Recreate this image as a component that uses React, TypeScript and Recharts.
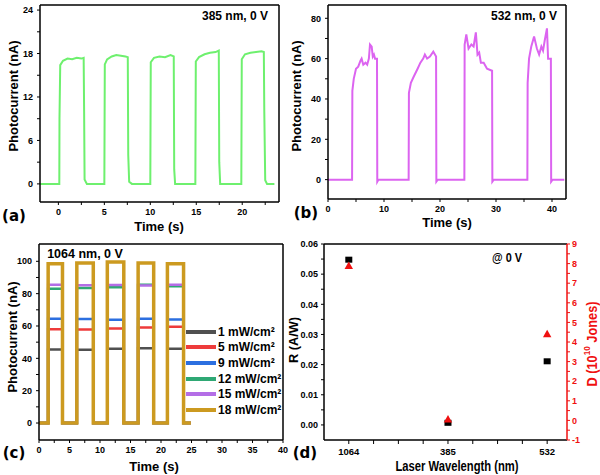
import React from 'react';
import { LineChart, Line, XAxis, YAxis, ReferenceLine, Legend, ComposedChart, Scatter } from 'recharts';

const FONT = "'Liberation Sans', Arial, sans-serif";
const LETTER = "'DejaVu Sans', sans-serif";

// ---------- (a) 385 nm ----------
const signal385: [number, number][] = [
  [-2, 0], [0.1, 0], [0.12, 9], [0.2, 16.4], [0.5, 17.0], [1.0, 17.3], [1.5, 17.2], [2.0, 17.4], [2.5, 17.3], [2.75, 17.4], [2.8, 10], [2.85, 0.6], [3.1, 0],
  [5.0, 0], [5.05, 16.5], [5.3, 17.2], [5.8, 17.6], [6.3, 17.8], [6.8, 17.7], [7.3, 17.6], [7.55, 17.5], [7.6, 4], [7.7, 0.3], [8.0, 0],
  [10.0, 0], [10.05, 16.8], [10.4, 17.4], [11.0, 17.6], [11.6, 17.5], [12.2, 17.8], [12.55, 17.6], [12.6, 2], [12.7, 0],
  [14.9, 0], [14.95, 16.9], [15.3, 17.5], [15.9, 17.9], [16.5, 18.1], [17.1, 18.2], [17.45, 18.4], [17.5, 3], [17.6, 0],
  [19.9, 0], [19.95, 17.2], [20.3, 17.9], [20.9, 18.1], [21.5, 18.2], [22.1, 18.3], [22.35, 18.2], [22.4, 10], [22.5, 0.5], [22.7, 0], [23.5, 0],
];
const aXTicks = [0, 2.5, 5, 7.5, 10, 12.5, 15, 17.5, 20, 22.5];
const aYTicks = [0, 3, 6, 9, 12, 15, 18, 21, 24];

// ---------- (b) 532 nm ----------
const signal532: [number, number][] = [
  [0, 0], [4.3, 0], [4.35, 44], [4.6, 50], [5.0, 55], [5.4, 56], [5.8, 59], [6.0, 60], [6.3, 57], [6.7, 58], [7.0, 57], [7.3, 60], [7.5, 67], [7.8, 66], [8.0, 61], [8.2, 62], [8.4, 60], [8.75, 60], [8.8, -1], [9.0, 0],
  [14.4, 0], [14.45, 43], [14.8, 48], [15.3, 51], [16.0, 55], [16.5, 58], [17.0, 60], [17.3, 62], [17.7, 60], [18.2, 61], [18.8, 63.5], [19.3, 61], [19.35, -1], [19.6, 0],
  [24.35, 0], [24.4, 67], [24.7, 72], [25.1, 65], [25.6, 67], [26.0, 66], [26.4, 73], [26.7, 62], [27.0, 63], [27.3, 58], [27.8, 58], [28.4, 55], [29.3, 54], [29.35, -1], [29.6, 0],
  [35.6, 0], [35.65, 48], [35.9, 60], [36.3, 66], [36.8, 71], [37.3, 65], [37.7, 62], [38.1, 66], [38.4, 64], [38.7, 69], [39.1, 75], [39.3, 60], [39.8, 60], [39.85, -1], [40.1, 0], [42.2, 0],
];
const bXTicks = [0, 5, 10, 15, 20, 25, 30, 35, 40];
const bYTicks = [0, 10, 20, 30, 40, 50, 60, 70, 80];

// ---------- (c) 1064 nm ----------
const onTimes = [1.5, 6.2, 11.2, 16.25, 21.05];
const offTimes = [3.85, 8.9, 13.9, 18.8, 23.7];
const endTime = 24.9;
const powers = ['1 mW/cm²', '5 mW/cm²', '9 mW/cm²', '12 mW/cm²', '15 mW/cm²', '18 mW/cm²'];
const powerColors = ['#505050', '#EE3B3B', '#2C6FE0', '#2FA874', '#B46EE6', '#CC9A20'];
const level1 = [45.5, 45.3, 46.0, 46.3, 46.0];
const level5 = [58.0, 57.8, 58.5, 59.0, 59.5];
const level9 = [64.5, 64.3, 63.8, 64.5, 64.0];
const level12 = [83.0, 83.5, 84.0, 85.5, 84.5];
const level15 = [85.5, 85.2, 85.3, 85.0, 85.5];
const level18 = [98.5, 99.0, 99.5, 99.0, 98.5];
const powerLevels = [level1, level5, level9, level12, level15, level18];
const cXTicks = [0, 2.5, 5, 7.5, 10, 12.5, 15, 17.5, 20, 22.5, 25, 27.5, 30, 32.5, 35, 37.5, 40];
const cYTicks = [0, 10, 20, 30, 40, 50, 60, 70, 80, 90, 100];

const buildWave = (levels: number[]) => {
  const pts: { t: number; v: number }[] = [{ t: 0, v: 0 }];
  levels.forEach((L, i) => {
    pts.push({ t: onTimes[i], v: 0 }, { t: onTimes[i], v: L }, { t: offTimes[i], v: L }, { t: offTimes[i], v: 0 });
  });
  pts.push({ t: endTime, v: 0 });
  return pts;
};

// ---------- (d) responsivity / detectivity ----------
const wavelengths = ['1064', '385', '532'];
const responsivity = [0.0548, 0.0007, 0.0211];
const detectivity = [7.88, 0.05, 4.4];
const dXTicks = [1, 1.25, 1.5, 1.75, 2, 2.25, 2.5, 2.75, 3];
const dRTicks = [0, 0.005, 0.01, 0.015, 0.02, 0.025, 0.03, 0.035, 0.04, 0.045, 0.05, 0.055, 0.06];
const dDTicks = [-1, -0.5, 0, 0.5, 1, 1.5, 2, 2.5, 3, 3.5, 4, 4.5, 5, 5.5, 6, 6.5, 7, 7.5, 8, 8.5, 9];

const tickStyle = { fontSize: 9, fontWeight: 700, fill: '#000', fontFamily: FONT };
const axisLine = { stroke: '#000', strokeWidth: 1.5 };
const tickLine = { stroke: '#000', strokeWidth: 1 };
const titleStyle = { fontSize: 13, fontWeight: 700, fontFamily: FONT, fill: '#000' } as const;
const letterStyle = { fontSize: 15, fontWeight: 700, fontFamily: LETTER, fill: '#000' } as const;

const layer: React.CSSProperties = { position: 'absolute', left: 0, top: 0 };

const ChartA = () => {
  const data = signal385.map(([t, v]) => ({ t, v }));
  return (
    <LineChart width={600} height={475} data={data} margin={{ top: 5, right: 321, bottom: 243, left: 10 }}>
      <XAxis dataKey="t" type="number" domain={[-2, 24]} allowDataOverflow ticks={aXTicks} interval={0}
        tickFormatter={(v: number) => (v % 5 === 0 ? String(v) : '')} tick={tickStyle} axisLine={axisLine} tickLine={tickLine} tickSize={3} tickMargin={4} height={30} />
      <YAxis type="number" domain={[-2.5, 24.7]} allowDataOverflow ticks={aYTicks} interval={0}
        tickFormatter={(v: number) => (v % 6 === 0 ? String(v) : '')} tick={tickStyle} axisLine={axisLine} tickLine={tickLine} tickSize={3} tickMargin={4} width={30} />
      <ReferenceLine y={24.7} stroke="#000" strokeWidth={1.5} />
      <ReferenceLine x={24} stroke="#000" strokeWidth={1.5} />
      <Line dataKey="v" stroke="#6EF06E" strokeWidth={2} dot={false} isAnimationActive={false} />
      <text x={13} y={96} transform="rotate(-90 13 96)" textAnchor="middle" dominantBaseline="central" style={titleStyle}>Photocurrent (nA)</text>
      <text x={159} y={226} textAnchor="middle" dominantBaseline="central" style={titleStyle}>Time (s)</text>
      <text x={235} y={16} textAnchor="middle" dominantBaseline="central" style={{ ...titleStyle, fontSize: 12 }}>385 nm, 0 V</text>
      <text x={14} y={216} textAnchor="middle" dominantBaseline="central" style={letterStyle}>(a)</text>
    </LineChart>
  );
};

const ChartB = () => {
  const data = signal532.map(([t, v]) => ({ t, v }));
  return (
    <LineChart width={600} height={475} data={data} margin={{ top: 5, right: 34, bottom: 246, left: 298 }}>
      <XAxis dataKey="t" type="number" domain={[0, 42.5]} allowDataOverflow ticks={bXTicks} interval={0}
        tickFormatter={(v: number) => (v % 10 === 0 ? String(v) : '')} tick={tickStyle} axisLine={axisLine} tickLine={tickLine} tickSize={3} tickMargin={4} height={30} />
      <YAxis type="number" domain={[-9.6, 86.6]} allowDataOverflow ticks={bYTicks} interval={0}
        tickFormatter={(v: number) => (v % 20 === 0 ? String(v) : '')} tick={tickStyle} axisLine={axisLine} tickLine={tickLine} tickSize={3} tickMargin={4} width={30} />
      <ReferenceLine y={86.6} stroke="#000" strokeWidth={1.5} />
      <ReferenceLine x={42.5} stroke="#000" strokeWidth={1.5} />
      <Line dataKey="v" stroke="#DC64F0" strokeWidth={2} dot={false} isAnimationActive={false} />
      <text x={296} y={96} transform="rotate(-90 296 96)" textAnchor="middle" dominantBaseline="central" style={titleStyle}>Photocurrent (nA)</text>
      <text x={447} y={222} textAnchor="middle" dominantBaseline="central" style={titleStyle}>Time (s)</text>
      <text x={524} y={16} textAnchor="middle" dominantBaseline="central" style={{ ...titleStyle, fontSize: 12 }}>532 nm, 0 V</text>
      <text x={306} y={213} textAnchor="middle" dominantBaseline="central" style={letterStyle}>(b)</text>
    </LineChart>
  );
};

const PowerLegend = (props: any) => {
  const payload = [...(props.payload || [])].sort(
    (a: any, b: any) => powers.indexOf(a.value) - powers.indexOf(b.value),
  );
  return (
    <div style={{ fontFamily: FONT, fontWeight: 700, fontSize: 12, color: '#000' }}>
      {payload.map((e: any, i: number) => (
        <div key={i} style={{ display: 'flex', alignItems: 'center', height: 15.6, whiteSpace: 'nowrap' }}>
          <svg width={30} height={6} style={{ marginRight: 2 }}>
            <line x1={0} y1={3} x2={30} y2={3} stroke={e.color} strokeWidth={4} />
          </svg>
          <span>{e.value}</span>
        </div>
      ))}
    </div>
  );
};

const ChartC = () => (
  <LineChart width={600} height={475} margin={{ top: 244, right: 317, bottom: 5, left: 9 }}>
    <XAxis dataKey="t" type="number" domain={[0, 40]} allowDataOverflow ticks={cXTicks} interval={0}
      tickFormatter={(v: number) => (v % 5 === 0 ? String(v) : '')} tick={tickStyle} axisLine={axisLine} tickLine={tickLine} tickSize={3} tickMargin={4} height={30} />
    <YAxis type="number" domain={[-10.5, 110.7]} allowDataOverflow ticks={cYTicks} interval={0}
      tickFormatter={(v: number) => (v % 20 === 0 ? String(v) : '')} tick={tickStyle} axisLine={axisLine} tickLine={tickLine} tickSize={3} tickMargin={4} width={30} />
    <ReferenceLine y={110.7} stroke="#000" strokeWidth={1.5} />
    <ReferenceLine x={40} stroke="#000" strokeWidth={1.5} />
    {powers.map((name, i) => (
      <Line key={name} name={name} data={buildWave(powerLevels[i])} dataKey="v" stroke={powerColors[i]}
        strokeWidth={i === 5 ? 3.5 : 2.5} dot={false} isAnimationActive={false} />
    ))}
    <Legend layout="horizontal" verticalAlign="middle" content={<PowerLegend />}
      wrapperStyle={{ position: 'absolute', left: 186, top: 324, width: 110, height: 96 }} />
    <text x={12} y={337} transform="rotate(-90 12 337)" textAnchor="middle" dominantBaseline="central" style={titleStyle}>Photocurrent (nA)</text>
    <text x={154} y={466} textAnchor="middle" dominantBaseline="central" style={titleStyle}>Time (s)</text>
    <text x={85} y={254} textAnchor="middle" dominantBaseline="central" style={{ ...titleStyle, fontSize: 12.5 }}>1064 nm, 0 V</text>
    <text x={14} y={453} textAnchor="middle" dominantBaseline="central" style={letterStyle}>(c)</text>
  </LineChart>
);

const SquareMark = (p: any) => <rect x={p.cx - 3.5} y={p.cy - 3} width={7} height={6} fill="#000" />;
const TriangleMark = (p: any) => (
  <polygon points={`${p.cx},${p.cy - 4.5} ${p.cx + 4.2},${p.cy + 3} ${p.cx - 4.2},${p.cy + 3}`} fill="#F01010" />
);

const ChartD = () => {
  const data = wavelengths.map((w, i) => ({ pos: i + 1, name: w, R: responsivity[i], D: detectivity[i] }));
  const red = '#F01010';
  return (
    <ComposedChart width={600} height={475} data={data} margin={{ top: 244, right: 3, bottom: 5, left: 294 }}>
      <XAxis dataKey="pos" type="number" domain={[0.75, 3.2]} allowDataOverflow ticks={dXTicks} interval={0}
        tickFormatter={(v: number) => (Number.isInteger(v) ? wavelengths[v - 1] : '')} tick={{ ...tickStyle, fontSize: 9.5 }}
        axisLine={axisLine} tickLine={tickLine} tickSize={4} tickMargin={4} height={30} />
      <YAxis yAxisId="R" type="number" domain={[-0.005, 0.06]} allowDataOverflow ticks={dRTicks} interval={0}
        tickFormatter={(v: number) => (Math.abs(v * 100 - Math.round(v * 100)) < 1e-6 ? v.toFixed(2) : '')}
        tick={tickStyle} axisLine={axisLine} tickLine={tickLine} tickSize={3} tickMargin={3} width={30} />
      <YAxis yAxisId="D" orientation="right" type="number" domain={[-1, 9]} allowDataOverflow ticks={dDTicks} interval={0}
        tickFormatter={(v: number) => (Number.isInteger(v) ? String(v) : '')}
        tick={{ ...tickStyle, fill: red }} axisLine={{ stroke: red, strokeWidth: 1.5 }} tickLine={{ stroke: red, strokeWidth: 1 }} tickSize={3} tickMargin={2} width={30} />
      <ReferenceLine yAxisId="R" y={0.06} stroke="#000" strokeWidth={1.5} />
      <Scatter yAxisId="R" dataKey="R" shape={<SquareMark />} isAnimationActive={false} />
      <Scatter yAxisId="D" dataKey="D" shape={<TriangleMark />} isAnimationActive={false} />
      <text x={293} y={340} transform="rotate(-90 293 340)" textAnchor="middle" dominantBaseline="central" style={titleStyle}
        textLength={46} lengthAdjust="spacingAndGlyphs">R (A/W)</text>
      <text x={592} y={344} transform="rotate(-90 592 344)" textAnchor="middle" dominantBaseline="central"
        textLength={85} lengthAdjust="spacingAndGlyphs"
        style={{ fontSize: 14, fontWeight: 700, fontFamily: FONT, fill: red }}>
        D (10<tspan dy={-5} fontSize={9}>10</tspan><tspan dy={5}> Jones)</tspan>
      </text>
      <text x={457} y={466} textAnchor="middle" dominantBaseline="central" textLength={123} lengthAdjust="spacingAndGlyphs"
        style={{ fontSize: 14, fontWeight: 700, fontFamily: FONT, fill: '#000' }}>Laser Wavelength (nm)</text>
      <text x={507} y={257} textAnchor="middle" dominantBaseline="central" textLength={30} lengthAdjust="spacingAndGlyphs"
        style={{ fontSize: 13, fontWeight: 700, fontFamily: FONT, fill: '#000' }}>@ 0 V</text>
      <text x={305} y={453} textAnchor="middle" dominantBaseline="central" style={letterStyle}>(d)</text>
    </ComposedChart>
  );
};

export default function App() {
  return (
    <div style={{ position: 'absolute', left: 0, top: 0, width: 600, height: 475, background: '#fff', overflow: 'hidden' }}>
      <div style={layer}><ChartA /></div>
      <div style={layer}><ChartB /></div>
      <div style={layer}><ChartC /></div>
      <div style={layer}><ChartD /></div>
    </div>
  );
}
